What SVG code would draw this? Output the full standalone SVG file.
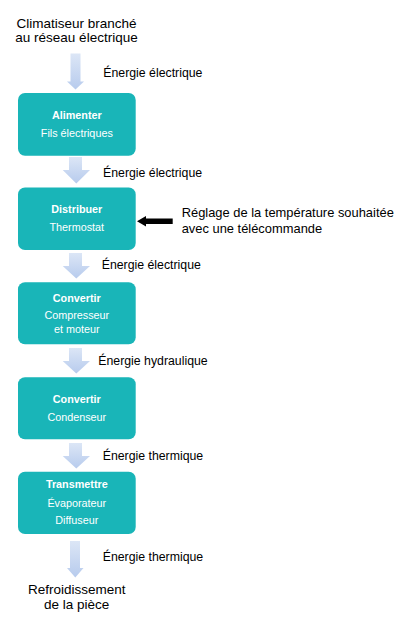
<svg xmlns="http://www.w3.org/2000/svg" width="411" height="628" viewBox="0 0 411 628">
<defs>
<linearGradient id="ag" x1="0" y1="0" x2="0" y2="1">
<stop offset="0" stop-color="#dce6f6"/>
<stop offset="1" stop-color="#b7cbed"/>
</linearGradient>
<style>
.box{fill:#19b5b8}
.t{font-family:"Liberation Sans",Arial,sans-serif;fill:#ffffff;font-size:10.8px;text-anchor:middle}
.b{font-weight:bold}
.lbl{font-family:"Liberation Sans",Arial,sans-serif;fill:#000000;font-size:12.3px}
.big{font-family:"Liberation Sans",Arial,sans-serif;fill:#000000;font-size:13.5px;text-anchor:middle}
.ar{fill:url(#ag)}
</style>
</defs>
<rect width="411" height="628" fill="#ffffff"/>
<g id="start">
<text class="big" x="76.5" y="27.8">Climatiseur branché</text>
<text class="big" x="76.5" y="42.3">au réseau électrique</text>
</g>
<g id="connectors">
<polygon class="ar" points="70.5,53.5 80.5,53.5 80.5,81.5 84,81.5 75.5,89.5 67,81.5 70.5,81.5"/>
<polygon class="ar" points="69,157 82,157 82,170 90,170 76.3,183.5 62.7,170 69,170"/>
<polygon class="ar" points="69,253 82,253 82,266 90,266 76.3,278.5 62.7,266 69,266"/>
<polygon class="ar" points="69,348 82,348 82,361 90,361 76.3,373.5 62.7,361 69,361"/>
<polygon class="ar" points="69,443 82,443 82,456 90,456 76.3,468.5 62.7,456 69,456"/>
<polygon class="ar" points="70,541 80,541 80,568 83.5,568 75.3,577.5 67,568 70,568"/>
<polygon fill="#000000" points="137,221.2 146,216 146,218.4 172.7,218.4 172.7,223.9 146,223.9 146,226.5"/>
<text class="lbl" x="103.3" y="76.7">Énergie électrique</text>
<text class="lbl" x="103" y="176.5">Énergie électrique</text>
<text class="lbl" x="101.7" y="268.5">Énergie électrique</text>
<text class="lbl" x="98.3" y="365">Énergie hydraulique</text>
<text class="lbl" x="102.7" y="460">Énergie thermique</text>
<text class="lbl" x="102.7" y="560.7">Énergie thermique</text>
</g>
<g id="alimenter">
<rect class="box" x="18" y="93" width="117.7" height="62.7" rx="7"/>
<text class="t b" x="76.8" y="118.5">Alimenter</text>
<text class="t" x="76.8" y="136.7">Fils électriques</text>
</g>
<g id="distribuer">
<rect class="box" x="18" y="187.5" width="117.7" height="62.5" rx="7"/>
<text class="t b" x="76.8" y="213.4">Distribuer</text>
<text class="t" x="76.8" y="230.7">Thermostat</text>
</g>
<g id="reglage">
<text class="lbl" style="font-size:12.9px" x="181.7" y="217.3">Réglage de la température souhaitée</text>
<text class="lbl" style="font-size:12.9px" x="181.7" y="233.3">avec une télécommande</text>
</g>
<g id="convertir1">
<rect class="box" x="18" y="282.3" width="117.7" height="62" rx="7"/>
<text class="t b" x="76.8" y="302.3">Convertir</text>
<text class="t" x="76.8" y="319">Compresseur</text>
<text class="t" x="76.8" y="333.3">et moteur</text>
</g>
<g id="convertir2">
<rect class="box" x="18" y="377.3" width="117.7" height="62" rx="7"/>
<text class="t b" x="76.8" y="403.3">Convertir</text>
<text class="t" x="76.8" y="420.7">Condenseur</text>
</g>
<g id="transmettre">
<rect class="box" x="18" y="471.8" width="117.7" height="62.3" rx="7"/>
<text class="t b" x="76.8" y="488.3">Transmettre</text>
<text class="t" x="76.8" y="506.7">Évaporateur</text>
<text class="t" x="76.8" y="524.3">Diffuseur</text>
</g>
<g id="end">
<text class="big" x="76.7" y="593.8">Refroidissement</text>
<text class="big" x="76.7" y="608.6">de la pièce</text>
</g>
</svg>
